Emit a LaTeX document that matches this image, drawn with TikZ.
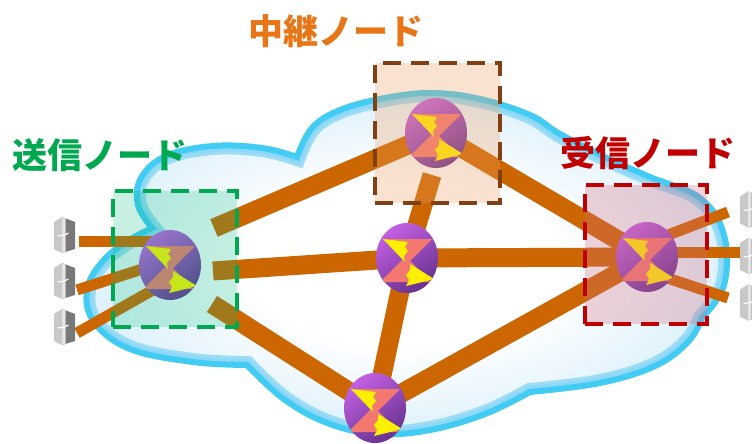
\documentclass[tikz,border=0pt]{standalone}
\usepackage{fontspec}
\newfontfamily\jpfont{Noto Sans CJK JP}
\usetikzlibrary{shapes.geometric}

\definecolor{trunkc}{RGB}{204,102,0}
\definecolor{cloudline}{RGB}{66,204,244}
\definecolor{cloudsoft}{RGB}{140,216,246}
\definecolor{cloudedge}{RGB}{178,224,248}
\definecolor{cloudmid}{RGB}{214,238,251}
\definecolor{purpleL}{RGB}{194,96,226}
\definecolor{purpleM}{RGB}{152,70,192}
\definecolor{purpleD}{RGB}{104,50,144}
\definecolor{coral}{RGB}{242,120,112}
\definecolor{arrowy}{RGB}{255,240,0}
\definecolor{sendg}{RGB}{0,168,80}
\definecolor{relayo}{RGB}{232,118,22}
\definecolor{recvr}{RGB}{192,0,0}
\definecolor{relayb}{RGB}{128,64,20}
\definecolor{srvL}{RGB}{200,200,200}
\definecolor{srvD}{RGB}{120,120,120}

\pgfdeclareradialshading{cloudfill}{\pgfpoint{0bp}{0bp}}{color(0bp)=(white); color(12bp)=(white); color(28bp)=(cloudmid); color(40bp)=(cloudedge); color(50bp)=(cloudedge)}

% outline of the cloud, built bump by bump between the notches
\def\cloudpath{(152,228)
 -- plot[smooth,tension=0.65] coordinates {(152,228) (138,205) (141,178) (166,156) (213,146) (262,148) (297,157)}
 -- plot[smooth,tension=0.65] coordinates {(297,157) (312,128) (340,110) (385,98) (432,93) (480,99) (530,115) (560,134) (605,157) (650,177) (700,198) (724,235) (724,285) (702,318)}
 -- plot[smooth,tension=0.65] coordinates {(702,318) (688,342) (655,366) (600,383) (530,392)}
 -- plot[smooth,tension=0.65] coordinates {(530,392) (485,414) (430,430) (378,434) (330,424) (285,400) (247,365)}
 -- plot[smooth,tension=0.65] coordinates {(247,365) (193,362) (130,349) (94,322) (87,290) (102,262) (126,242) (152,228)}
 -- cycle}

\begin{document}
\begin{tikzpicture}[x=1pt,y=-1pt,
  trunk/.style={draw=trunkc, line width=19pt},
  feeder/.style={draw=trunkc, line width=11pt},
  router/.style={ellipse, inner sep=0pt, minimum width=62pt, minimum height=70pt,
    top color=purpleL, middle color=purpleM, bottom color=purpleD, shading angle=35,
    path picture={
      \begin{scope}[shift={(path picture bounding box.center)}]
        \fill[coral] (-24,-19) -- (25,-19) -- (3,3) -- (24,24) -- (-27,24) -- (-3,0) -- cycle;
        \fill[arrowy] (-24,-19) -- (1,-16) -- (-2,-11) -- (1,-7) -- (-3,-2) -- (-2,4) -- cycle;
        \fill[arrowy] (27,21) -- (-1,28) -- (2,22) -- (-1,17) -- (3,12) -- (3,6) -- cycle;
      \end{scope}}},
  areabox/.style={rectangle, inner sep=0pt, line width=4.5pt, dash pattern=on 18pt off 10pt},
  lab/.style={inner sep=0pt, font=\jpfont\bfseries\fontsize{35}{35}\selectfont},
  serverpic/.pic={
    \fill[srvL] (-10.5,-13) -- (-2.5,-18) -- (-2.5,18) -- (-10.5,14) -- cycle;
    \fill[srvD] (-2.5,-18) -- (10.5,-13) -- (10.5,14) -- (-2.5,18) -- cycle;
    \fill[white!80!srvD] (-2.5,-18) -- (1,-16.7) -- (1,16.7) -- (-2.5,18) -- cycle;
    \draw[white, line width=1.2pt] (-7,1) -- (0,0) -- (4,-2);
  }]
\useasboundingbox (0,0) rectangle (752,444);
\clip (0,0) rectangle (752,444);
\fill[white] (0,0) rectangle (752,444);

% cloud
\shade[shading=cloudfill] \cloudpath;
\begin{scope}
  \clip \cloudpath;
  \draw[line width=18pt, cloudsoft!55!cloudedge] \cloudpath;
  \draw[line width=12pt, cloudsoft] \cloudpath;
\end{scope}
\draw[line width=6pt, cloudline] \cloudpath;

% router positions
\coordinate (S) at (170,265);
\coordinate (T) at (436,133);
\coordinate (M) at (407,258);
\coordinate (B) at (375,408);
\coordinate (R) at (647,257);

% free ends of the trunks that stop short of a router
\coordinate (ST) at (214,228);
\coordinate (SM) at (213,271);
\coordinate (SB) at (212,304);
\coordinate (TM) at (432,175);

% trunks
\draw[trunk] (ST) -- (T);
\draw[trunk] (SM) -- (M);
\draw[trunk] (SB) -- (B);
\draw[trunk] (TM) -- (M);
\draw[trunk] (M) -- (B);
\draw[trunk] (T) -- (R);
\draw[trunk] (M) -- (R);
\draw[trunk] (B) -- (R);

% terminals
\coordinate (hA) at (64.5,235);
\coordinate (hB) at (64.5,281);
\coordinate (hC) at (64.5,327);
\coordinate (hD) at (750.5,209.5);
\coordinate (hE) at (750.5,256);
\coordinate (hF) at (750.5,302.5);
\coordinate (pA) at (79,241);
\coordinate (pB) at (77,290);
\coordinate (pC) at (77,333);
\coordinate (pD) at (728,212);
\coordinate (pE) at (740,252);
\coordinate (pF) at (728,298);
\coordinate (qA) at (158,241);
\coordinate (qB) at (158,264);
\coordinate (qC) at (160,286);
\coordinate (qD) at (655,240);
\coordinate (qE) at (655,252);
\coordinate (qF) at (655,274);

\draw[feeder] (pA) -- (qA);
\draw[feeder] (pB) -- (qB);
\draw[feeder] (pC) -- (qC);
\draw[feeder] (qD) -- (pD);
\draw[feeder] (qE) -- (pE);
\draw[feeder] (qF) -- (pF);

\foreach \h in {hA,hB,hC,hD,hE,hF} \pic at (\h) {serverpic};

% routers
\node[router] (nS) at (S) {};
\node[router] (nT) at (T) {};
\node[router] (nM) at (M) {};
\node[router] (nB) at (B) {};
\node[router] (nR) at (R) {};

% node areas
\node[areabox, draw=sendg, fill=sendg!75!cyan, fill opacity=0.22,
      minimum width=124pt, minimum height=136pt] (bS) at (175,259) {};
\node[areabox, draw=relayb, fill={rgb,255:red,240;green,160;blue,100}, fill opacity=0.3,
      minimum width=125pt, minimum height=140pt] (bT) at (437.5,133) {};
\node[areabox, draw=recvr, fill={rgb,255:red,210;green,110;blue,130}, fill opacity=0.3,
      minimum width=122pt, minimum height=139pt] (bR) at (646,254.5) {};

% labels
\node[lab, text=relayo] (lT) at (335.5,31.5) {中継ノード};
\node[lab, text=sendg] (lS) at (100,155) {送信ノード};
\node[lab, text=recvr] (lR) at (647.5,153.5) {受信ノード};
\end{tikzpicture}
\end{document}
